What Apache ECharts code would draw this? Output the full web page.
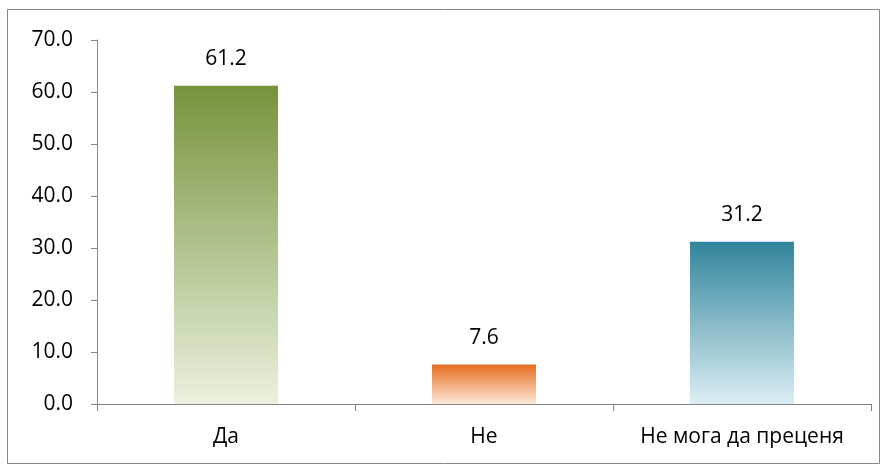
<!DOCTYPE html>
<html style="height: 100%">
<head>
    <meta charset="utf-8">
    <script src="https://cdn.jsdelivr.net/npm/echarts@6/dist/echarts.min.js"></script>
</head>
<body style="height: 100%; margin: 0; background: #fff">
    <div id="main" style="width:887px;height:466px;"></div>
    <script type="text/javascript">
    var categories = ['Да', 'Не', 'Не мога да преценя'];
    var values = [61.2, 7.6, 31.2];
    // top / bottom colour of each bar's gradient
    var topColors = ['#76933c', '#e46c1e', '#31859c'];
    var bottomColors = ['#ebf1de', '#fde9d9', '#dbeef4'];

    var myChart = echarts.init(document.getElementById('main'));

    var font = '"Open Sans", "Noto Sans", sans-serif';

    var barData = values.map(function (v, i) {
        return {
            value: v,
            itemStyle: {
                color: new echarts.graphic.LinearGradient(0, 0, 0, 1, [
                    { offset: 0, color: topColors[i] },
                    { offset: 1, color: bottomColors[i] }
                ])
            }
        };
    });

    var option = {
        animation: false,
        graphic: [{
            type: 'rect',
            shape: { x: 7.5, y: 9.5, width: 872, height: 454 },
            style: { fill: 'none', stroke: '#868686', lineWidth: 1 },
            silent: true
        }],
        grid: {
            left: 97,
            right: 16,
            top: 40,
            bottom: 62
        },
        xAxis: {
            type: 'category',
            data: categories,
            axisLine: { lineStyle: { color: '#868686', width: 1 } },
            axisTick: { show: true, length: 7, lineStyle: { color: '#868686' } },
            axisLabel: {
                color: '#000',
                fontSize: 21,
                fontFamily: font,
                margin: 23,
                interval: 0,
                hideOverlap: false
            }
        },
        yAxis: {
            type: 'value',
            min: 0,
            max: 70,
            interval: 10,
            splitLine: { show: false },
            axisLine: { show: true, lineStyle: { color: '#868686', width: 1 } },
            axisTick: { show: true, length: 6, lineStyle: { color: '#868686' } },
            axisLabel: {
                color: '#000',
                fontSize: 21,
                fontFamily: font,
                margin: 24,
                formatter: function (v) { return v.toFixed(1); }
            }
        },
        series: [{
            type: 'bar',
            barWidth: 104,
            data: barData,
            label: {
                show: true,
                position: 'top',
                distance: 16,
                color: '#000',
                fontSize: 21,
                fontFamily: font,
                formatter: function (p) { return p.value.toFixed(1); }
            }
        }]
    };

    myChart.setOption(option);
    </script>
</body>
</html>
